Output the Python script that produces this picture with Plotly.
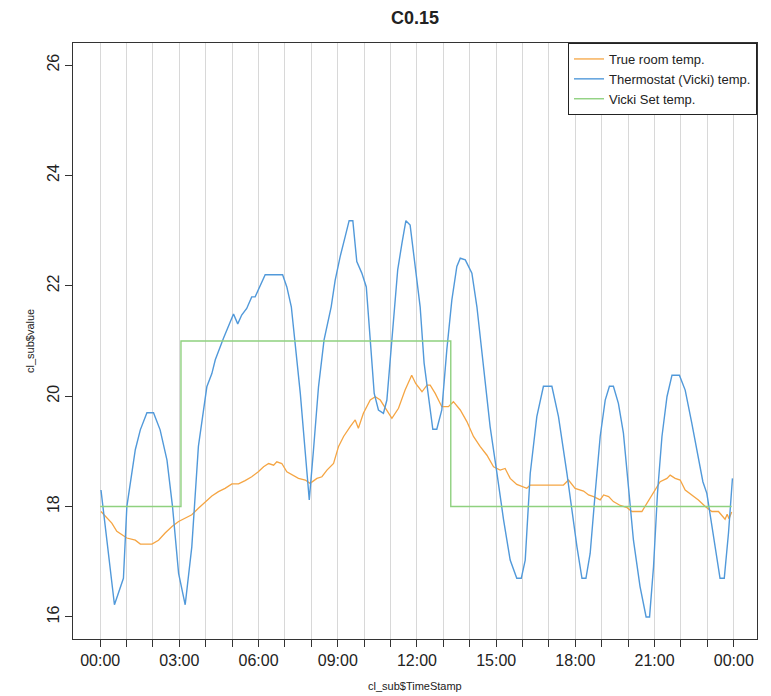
import plotly.graph_objects as go

# ---- data (hours since midnight) ----
room_t = [0.03, 0.19, 0.44, 0.63, 0.82, 1.01, 1.33, 1.52, 1.96, 2.21, 2.46, 2.72, 2.97, 3.22, 3.47,
          3.72, 3.98, 4.23, 4.48, 4.73, 4.99, 5.24, 5.49, 5.74, 5.99, 6.19, 6.38, 6.57, 6.69, 6.88,
          7.07, 7.32, 7.51, 7.77, 7.95, 8.21, 8.4, 8.59, 8.84, 9.03, 9.22, 9.47, 9.66, 9.78, 9.97,
          10.23, 10.42, 10.61, 10.8, 11.05, 11.3, 11.55, 11.8, 11.95, 12.19, 12.38, 12.5, 12.69,
          12.94, 13.19, 13.38, 13.64, 13.89, 14.14, 14.39, 14.65, 14.9, 15.15, 15.34, 15.53, 15.78,
          16.16, 16.29, 17.55, 17.74, 17.99, 18.31, 18.5, 18.69, 18.94, 19.07, 19.26, 19.44, 19.7,
          19.96, 20.14, 20.52, 20.71, 20.96, 21.21, 21.47, 21.59, 21.78, 21.97, 22.16, 22.41, 22.66,
          22.92, 23.17, 23.42, 23.59, 23.67, 23.75, 23.82, 23.92]
room_v = [17.91, 17.82, 17.70, 17.55, 17.49, 17.43, 17.39, 17.32, 17.32, 17.39, 17.52, 17.64, 17.73,
          17.79, 17.85, 17.97, 18.09, 18.19, 18.27, 18.33, 18.41, 18.41, 18.47, 18.54, 18.63, 18.72,
          18.78, 18.75, 18.81, 18.78, 18.63, 18.57, 18.51, 18.48, 18.42, 18.51, 18.54, 18.66, 18.78,
          19.09, 19.27, 19.45, 19.57, 19.42, 19.69, 19.93, 19.99, 19.93, 19.78, 19.60, 19.78, 20.11,
          20.38, 20.23, 20.08, 20.20, 20.20, 20.05, 19.81, 19.81, 19.90, 19.75, 19.54, 19.27, 19.09,
          18.93, 18.72, 18.66, 18.69, 18.51, 18.40, 18.33, 18.39, 18.39, 18.48, 18.33, 18.28, 18.21,
          18.18, 18.12, 18.21, 18.18, 18.09, 18.02, 17.98, 17.91, 17.91, 18.06, 18.24, 18.45, 18.51,
          18.57, 18.51, 18.48, 18.30, 18.21, 18.12, 18.00, 17.91, 17.91, 17.82, 17.77, 17.86, 17.78,
          17.90]

thermo_t = [0.03, 0.54, 0.88, 1.01, 1.33, 1.52, 1.77, 2.02, 2.27, 2.53, 2.74, 2.97, 3.22, 3.47, 3.72,
            4.04, 4.23, 4.36, 4.67, 5.05, 5.21, 5.36, 5.55, 5.74, 5.87, 6.25, 6.91, 7.07, 7.24, 7.37,
            7.58, 7.77, 7.92, 8.08, 8.27, 8.48, 8.75, 8.9, 9.09, 9.28, 9.43, 9.57, 9.72, 9.91, 10.08,
            10.23, 10.38, 10.54, 10.73, 10.86, 11.05, 11.27, 11.43, 11.58, 11.74, 11.95, 12.12, 12.27,
            12.44, 12.6, 12.75, 12.94, 13.13, 13.32, 13.51, 13.64, 13.83, 14.08, 14.27, 14.52, 14.77,
            15.03, 15.28, 15.53, 15.78, 15.95, 16.1, 16.29, 16.54, 16.79, 17.11, 17.36, 17.68, 18.06,
            18.25, 18.4, 18.56, 18.75, 18.94, 19.13, 19.29, 19.44, 19.63, 19.82, 20.01, 20.2, 20.45,
            20.68, 20.81, 20.96, 21.11, 21.28, 21.47, 21.66, 21.94, 22.16, 22.41, 22.66, 22.83, 22.98,
            23.17, 23.36, 23.48, 23.64, 23.8, 23.95]
thermo_v = [18.30, 16.22, 16.70, 18.00, 19.03, 19.39, 19.70, 19.70, 19.39, 18.84, 18.00, 16.79, 16.22,
            17.27, 19.09, 20.17, 20.41, 20.66, 21.05, 21.49, 21.31, 21.47, 21.59, 21.80, 21.80, 22.20,
            22.20, 21.98, 21.62, 21.02, 20.05, 18.97, 18.12, 19.03, 20.17, 21.02, 21.62, 22.10, 22.53,
            22.89, 23.18, 23.18, 22.44, 22.23, 21.98, 21.02, 20.05, 19.75, 19.69, 19.93, 21.02, 22.29,
            22.77, 23.18, 23.10, 22.29, 21.62, 20.60, 19.93, 19.40, 19.40, 19.75, 20.84, 21.74, 22.35,
            22.50, 22.47, 22.23, 21.62, 20.53, 19.45, 18.60, 17.76, 17.03, 16.70, 16.70, 17.03, 18.60,
            19.63, 20.18, 20.18, 19.63, 18.60, 17.27, 16.70, 16.70, 17.15, 18.24, 19.27, 19.93, 20.18,
            20.18, 19.87, 19.33, 18.36, 17.39, 16.55, 16.00, 16.00, 16.91, 18.24, 19.27, 19.99, 20.38,
            20.38, 20.11, 19.51, 18.84, 18.45, 18.24, 17.64, 17.03, 16.70, 16.70, 17.52, 18.51]

set_t = [0.0, 3.06, 13.28, 23.92]
set_v = [18, 21, 18, 18]

hour_ticks = list(range(0, 25))
hour_labels = [f"{h % 24:02d}:00" if h % 3 == 0 else "" for h in hour_ticks]
y_ticks = [16, 18, 20, 22, 24, 26]

C_ROOM = "#F5A543"
C_THERMO = "#5199DA"
C_SET = "#8FD17F"

fig = go.Figure()
fig.add_trace(go.Scatter(x=room_t, y=room_v, mode="lines", name="True room temp.",
                         line=dict(color=C_ROOM, width=1.3)))
fig.add_trace(go.Scatter(x=thermo_t, y=thermo_v, mode="lines", name="Thermostat (Vicki) temp.",
                         line=dict(color=C_THERMO, width=1.4)))
fig.add_trace(go.Scatter(x=set_t, y=set_v, mode="lines", name="Vicki Set temp.",
                         line=dict(color=C_SET, width=1.4, shape="hv")))

fig.update_layout(
    width=771, height=696,
    margin=dict(l=73, r=14, t=43, b=57),
    paper_bgcolor="white", plot_bgcolor="white",
    font=dict(family="Liberation Sans, Arial, sans-serif", color="#222"),
    title=dict(text="<b>C0.15</b>", x=0.5, xref="paper", y=1 - 18 / 696, yanchor="middle",
               font=dict(size=18, color="#222")),
    showlegend=True,
    legend=dict(x=1, y=1, xanchor="right", yanchor="top", bgcolor="white",
                bordercolor="#222", borderwidth=1, font=dict(size=13, color="#222"),
                tracegroupgap=0),
    xaxis=dict(range=[-1.03, 24.88], tickmode="array", tickvals=hour_ticks, ticktext=hour_labels,
               showgrid=True, gridcolor="#D8D8D8", gridwidth=1, zeroline=False,
               showline=True, linecolor="#333", linewidth=1, mirror=True,
               ticks="outside", ticklen=7, tickcolor="#333", tickfont=dict(size=16)),
    yaxis=dict(range=[15.6, 26.4], tickmode="array", tickvals=y_ticks,
               showgrid=False, zeroline=False,
               showline=True, linecolor="#333", linewidth=1, mirror=True,
               ticks="outside", ticklen=7, tickcolor="#333", tickangle=-90,
               tickfont=dict(size=16)),
    annotations=[
        dict(text="cl_sub$TimeStamp", xref="paper", yref="paper", x=0.5, y=(639 - 686) / 596,
             xanchor="center", yanchor="middle", showarrow=False, font=dict(size=11, color="#222")),
        dict(text="cl_sub$value", xref="paper", yref="paper", x=(30 - 73) / 684, y=0.5,
             xanchor="center", yanchor="middle", showarrow=False, textangle=-90,
             font=dict(size=11, color="#222")),
    ],
)

fig.write_html("out.html")
